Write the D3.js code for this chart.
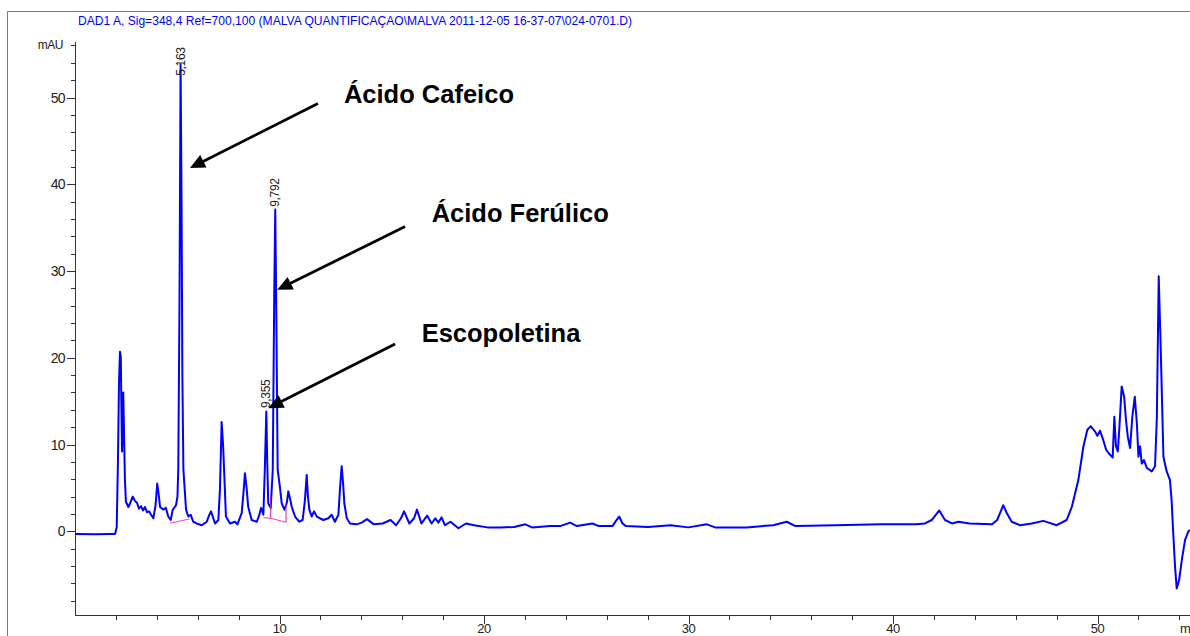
<!DOCTYPE html>
<html>
<head>
<meta charset="utf-8">
<script src="https://cdn.jsdelivr.net/npm/d3@7"></script>
<style>
  body { margin: 0; background: #fff; }
  svg { display: block; font-family: "Liberation Sans", Arial, sans-serif; }
</style>
</head>
<body>
<div id="chart"></div>
<script>
// retention time (min) and signal (mAU)
const rtMin = [0, 0.98, 1.71, 1.96, 2.04, 2.10, 2.15, 2.20, 2.24, 2.27, 2.30, 2.33, 2.36, 2.40, 2.44, 2.49,
  2.61, 2.69, 2.82, 2.93, 3.03, 3.13, 3.23, 3.33, 3.42, 3.52, 3.62, 3.72, 3.83, 3.94, 4.02, 4.08, 4.16,
  4.32, 4.44, 4.56, 4.68, 4.78, 4.94, 5.01, 5.05, 5.11, 5.163, 5.21, 5.25, 5.30, 5.43, 5.54, 5.66, 5.78,
  5.95, 6.20, 6.44, 6.55, 6.65, 6.75, 6.85, 7.01, 7.09, 7.17, 7.24, 7.29, 7.38, 7.58, 7.82, 7.94, 8.15,
  8.24, 8.31, 8.39, 8.47, 8.64, 8.89, 9.00, 9.10, 9.21, 9.28, 9.355, 9.40, 9.45, 9.57, 9.67, 9.74, 9.792,
  9.84, 9.91, 10.02, 10.11, 10.24, 10.35, 10.43, 10.51, 10.60, 10.76, 10.97, 11.13, 11.24, 11.33, 11.39,
  11.46, 11.57, 11.69, 11.82, 12.14, 12.39, 12.55, 12.71, 12.88, 12.96, 13.04, 13.11, 13.17, 13.29, 13.45,
  13.77, 14.02, 14.28, 14.61, 15.04, 15.43, 15.70, 15.94, 16.09, 16.35, 16.58, 16.72, 16.94, 17.22, 17.44,
  17.62, 17.77, 17.92, 18.09, 18.36, 18.75, 19.12, 19.51, 20.17, 20.83, 21.48, 22.02, 22.35, 23.23, 23.72,
  24.21, 24.54, 25.30, 25.62, 26.28, 26.45, 26.61, 26.77, 26.94, 28.02, 29.12, 29.99, 30.90, 31.30, 32.83,
  34.14, 34.80, 35.23, 37.20, 39.38, 41.12, 41.56, 41.89, 42.26, 42.54, 42.88, 43.20, 43.74, 44.84, 45.09,
  45.23, 45.39, 45.56, 45.80, 46.21, 46.78, 47.35, 48.00, 48.49, 48.74, 49.06, 49.31, 49.50, 49.67, 49.88,
  49.99, 50.12, 50.28, 50.42, 50.58, 50.74, 50.82, 50.90, 50.99, 51.07, 51.18, 51.30, 51.39, 51.48, 51.59,
  51.70, 51.82, 51.92, 52.00, 52.08, 52.16, 52.27, 52.41, 52.65, 52.81, 52.90, 52.99, 53.09, 53.22, 53.38,
  53.54, 53.62, 53.70, 53.79, 53.87, 53.99, 54.12, 54.28, 54.44, 54.52];

const absMAU = [-0.3, -0.35, -0.3, -0.3, 0.5, 8, 17, 20.7, 20.1, 14, 9.2, 12, 16, 11, 6, 3.4,
  2.8, 3.2, 4.0, 3.5, 3.3, 2.6, 2.9, 2.4, 2.8, 2.2, 2.3, 1.9, 1.5, 3, 5.5, 4.5, 2.8,
  2.5, 2.7, 1.7, 1.3, 2.5, 3.0, 4, 7.1, 26.7, 53.8, 38, 18, 7.1, 2.5, 1.7, 1.9, 1.1,
  0.9, 0.7, 1.1, 1.8, 2.3, 1.6, 0.9, 1.3, 5, 12.6, 10, 7.1, 1.7, 0.9, 1.1, 0.8, 2.1,
  4.5, 6.7, 5, 2.8, 1.3, 1.1, 1.8, 2.7, 1.9, 7, 13.8, 8, 3.2, 2.7, 7.1, 26.7, 37.1,
  26, 7.1, 5.1, 3.2, 2.5, 3.2, 4.6, 3.8, 2.8, 1.7, 1.1, 1.3, 3.5, 6.5, 4,
  2.5, 1.7, 2.3, 1.7, 1.3, 1.5, 1.9, 1.1, 1.9, 5, 7.5, 5.5, 3.2, 1.5, 0.9,
  0.8, 1.0, 1.4, 0.8, 0.9, 1.3, 0.7, 1.5, 2.3, 0.9, 1.5, 2.5, 0.9, 1.8, 0.9,
  1.5, 1.0, 1.6, 0.7, 1.1, 0.35, 0.9, 0.7, 0.45, 0.45, 0.5, 0.8, 0.45, 0.6, 0.6,
  1.0, 0.6, 0.9, 0.6, 0.6, 1.2, 1.7, 0.9, 0.6, 0.5, 0.7, 0.45, 0.8, 0.45, 0.45,
  0.7, 1.1, 0.6, 0.7, 0.8, 0.8, 0.9, 1.3, 2.4, 1.3, 0.9, 1.1, 0.9, 0.8, 1.3,
  2.1, 3.0, 2.1, 1.1, 0.7, 0.9, 1.2, 0.7, 1.3, 2.8, 5.9, 9.8, 11.7, 12.1, 11.5,
  11.0, 11.6, 10.5, 9.4, 8.9, 8.5, 13.2, 9.8, 9.2, 12.1, 16.7, 15.5, 12.8, 10.9, 9.6,
  13.2, 15.5, 12.5, 8.6, 9.8, 7.8, 8.2, 7.3, 6.9, 7.5, 13.2, 29.4, 20.9, 8.6, 6.9,
  5.9, 3.6, -0.2, -4.1, -6.6, -5.6, -3.3, -1.0, 0, 0.15];

// integration baselines (time, mAU)
const baselineSegs = [
  [[4.65, 0.92], [5.59, 1.42]],
  [[9.21, 1.57], [9.57, 1.50]],
  [[9.57, 1.50], [10.32, 1.04]]
];
const baselineDrops = [[9.57, 1.50, 2.6], [10.32, 1.04, 2.2]];

// retention time labels
const peakLabels = ["5,163", "9,792", "9,355"];
const peakTimes = [5.163, 9.792, 9.355];
const peakLabelBase = [52.5, 37.4, 14.2];

// compound annotations: text, text anchor, arrow start, arrow tip (time, mAU)
const compoundNames = ["Ácido Cafeico", "Ácido Ferúlico", "Escopoletina"];
const nameAt = [[13.15, 49.4], [17.44, 35.7], [16.95, 21.87]];
const arrowFrom = [[11.88, 49.3], [16.14, 35.13], [15.65, 21.6]];
const arrowTo = [[5.62, 41.87], [9.89, 27.83], [9.45, 14.19]];

const yMajor = [0, 10, 20, 30, 40, 50];
const xMajor = [10, 20, 30, 40, 50];

const titleText = "DAD1 A, Sig=348,4 Ref=700,100 (MALVA QUANTIFICAÇAO\\MALVA 2011-12-05 16-37-07\\024-0701.D)";

/***** SETUP *****/
const width = 1190, height = 636;
const plot = {left: 75, right: 1190, top: 42, bottom: 615};

const svg = d3.select("#chart").append("svg")
  .attr("width", width)
  .attr("height", height);

const x = d3.scaleLinear().domain([0, 54.52]).range([plot.left, plot.right]);
const y = d3.scaleLinear().domain([-9.65, 56.4]).range([plot.bottom, plot.top]);

// outer frame
svg.append("path")
  .attr("d", `M7.5,${height}V11.5H${width}`)
  .attr("fill", "none")
  .attr("stroke", "#777")
  .attr("stroke-width", 1);

// header
svg.append("text")
  .attr("x", 78)
  .attr("y", 25)
  .attr("font-size", 12)
  .attr("fill", "#0000ff")
  .attr("textLength", 554)
  .attr("lengthAdjust", "spacingAndGlyphs")
  .text(titleText);

/***** AXES *****/
const axisColor = "#333";

// y axis
const yAxis = svg.append("g").attr("transform", `translate(${plot.left},0)`);
yAxis.append("line")
  .attr("x1", 0.5).attr("x2", 0.5)
  .attr("y1", plot.top).attr("y2", plot.bottom)
  .attr("stroke", axisColor);
yAxis.selectAll(".yMinor")
  .data(d3.range(-8, 57, 2).filter(d => d % 10 !== 0))
  .enter().append("line")
  .attr("x1", -4).attr("x2", 0.5)
  .attr("y1", d => Math.round(y(d)) + 0.5).attr("y2", d => Math.round(y(d)) + 0.5)
  .attr("stroke", axisColor);
yAxis.selectAll(".yMajor")
  .data(yMajor)
  .enter().append("line")
  .attr("x1", -8).attr("x2", 0.5)
  .attr("y1", d => Math.round(y(d)) + 0.5).attr("y2", d => Math.round(y(d)) + 0.5)
  .attr("stroke", axisColor);
yAxis.selectAll(".yLabel")
  .data(yMajor)
  .enter().append("text")
  .attr("x", -10)
  .attr("y", d => y(d) + 5)
  .attr("text-anchor", "end")
  .attr("font-size", 14)
  .attr("fill", "#222")
  .attr("letter-spacing", -0.6)
  .text(d => d);
yAxis.append("text")
  .attr("x", -12)
  .attr("y", 49)
  .attr("text-anchor", "end")
  .attr("font-size", 12)
  .attr("fill", "#222")
  .attr("letter-spacing", -0.5)
  .text("mAU");

// x axis
const xAxis = svg.append("g").attr("transform", `translate(0,${plot.bottom})`);
xAxis.append("line")
  .attr("x1", plot.left).attr("x2", plot.right)
  .attr("y1", 0.5).attr("y2", 0.5)
  .attr("stroke", axisColor);
xAxis.selectAll(".xMinor")
  .data(d3.range(2, 55, 2).filter(d => d % 10 !== 0))
  .enter().append("line")
  .attr("x1", d => Math.round(x(d)) + 0.5).attr("x2", d => Math.round(x(d)) + 0.5)
  .attr("y1", 0.5).attr("y2", 5)
  .attr("stroke", axisColor);
xAxis.selectAll(".xMajor")
  .data(xMajor)
  .enter().append("line")
  .attr("x1", d => Math.round(x(d)) + 0.5).attr("x2", d => Math.round(x(d)) + 0.5)
  .attr("y1", 0.5).attr("y2", 9)
  .attr("stroke", axisColor);
xAxis.selectAll(".xLabel")
  .data(xMajor)
  .enter().append("text")
  .attr("x", d => x(d))
  .attr("y", 17.5)
  .attr("text-anchor", "middle")
  .attr("font-size", 13)
  .attr("fill", "#222")
  .attr("letter-spacing", -0.5)
  .text(d => d);
xAxis.append("text")
  .attr("x", 1180)
  .attr("y", 17.5)
  .attr("font-size", 13)
  .attr("fill", "#222")
  .text("min");

/***** TRACE *****/
const trace = rtMin.map((t, i) => [t, absMAU[i]]);

svg.append("path")
  .datum(trace)
  .attr("fill", "none")
  .attr("stroke", "#0000ff")
  .attr("stroke-width", 2)
  .attr("stroke-linejoin", "round")
  .attr("d", d3.line().x(d => x(d[0])).y(d => y(d[1])));

// integration baselines
svg.selectAll(".base")
  .data(baselineSegs)
  .enter().append("path")
  .attr("fill", "none")
  .attr("stroke", "#ff33cc")
  .attr("stroke-width", 1)
  .attr("d", d3.line().x(d => x(d[0])).y(d => y(d[1])));
svg.selectAll(".drop")
  .data(baselineDrops)
  .enter().append("line")
  .attr("x1", d => x(d[0])).attr("x2", d => x(d[0]))
  .attr("y1", d => y(d[1])).attr("y2", d => y(d[1] + d[2]))
  .attr("stroke", "#cc2299")
  .attr("stroke-width", 1);

// retention time labels
svg.selectAll(".rt")
  .data(peakLabels)
  .enter().append("text")
  .attr("transform", (d, i) => `translate(${x(peakTimes[i]) + 4},${y(peakLabelBase[i])}) rotate(-90)`)
  .attr("font-size", 12)
  .attr("fill", "#222")
  .attr("letter-spacing", -0.3)
  .text(d => d);

/***** ANNOTATIONS *****/
const headLen = 15, headHalf = 7;
compoundNames.forEach((name, i) => {
  const x0 = x(arrowFrom[i][0]), y0 = y(arrowFrom[i][1]);
  const x1 = x(arrowTo[i][0]), y1 = y(arrowTo[i][1]);
  const len = Math.hypot(x1 - x0, y1 - y0);
  const ux = (x1 - x0) / len, uy = (y1 - y0) / len;
  const bx = x1 - ux * headLen, by = y1 - uy * headLen;

  svg.append("line")
    .attr("x1", x0).attr("y1", y0)
    .attr("x2", bx + ux * 2).attr("y2", by + uy * 2)
    .attr("stroke", "#000")
    .attr("stroke-width", 2.8);

  svg.append("path")
    .attr("d", `M${x1},${y1}L${bx - uy * headHalf},${by + ux * headHalf}L${bx + uy * headHalf},${by - ux * headHalf}Z`)
    .attr("fill", "#000");

  svg.append("text")
    .attr("x", x(nameAt[i][0]))
    .attr("y", y(nameAt[i][1]))
    .attr("font-size", 25.5)
    .attr("font-weight", "bold")
    .attr("fill", "#000")
    .text(name);
});
</script>
</body>
</html>
